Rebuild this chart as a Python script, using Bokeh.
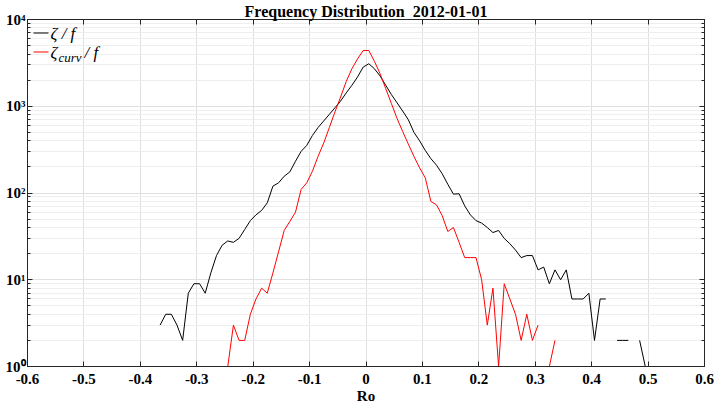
import numpy as np
from bokeh.plotting import figure
from bokeh.models import (Range1d, LinearAxis, LogAxis, FixedTicker, LogTicker,
                          Label, BoxAnnotation)
from bokeh.embed import file_html
from bokeh.resources import INLINE

# ---------------- data ----------------
bin_width = 0.01

# zeta / f : bin centres start at -0.365
zeta_start = -0.365
zeta_counts = [
    3, 4, 4, 3, 2, 7, 9, 9, 7, 12,
    19, 25, 28, 27, 30, 38, 48, 56, 63, 77,
    120, 131, 156, 175, 232, 302, 354, 460, 568, 677,
    806, 961, 1148, 1427, 1746, 2174, 2825, 3090, 2700, 2233,
    1746, 1365, 1096, 881, 700, 500, 400, 310, 249, 209,
    167, 126, 97, 98, 71, 56, 48, 45, 40, 35,
    37, 30, 26, 22, 18, 19, 19, 13, 14, 9,
    13, 10, 13, 6, 6, 6, 7, 2, 6, 6,
    0, 2, 2, 2, 0, 2, 1,
]

# zeta_curv / f : bin centres start at -0.245
curv_start = -0.245
curv_counts = [
    1, 3, 2, 2, 4, 6, 8, 7, 12, 21,
    37, 47, 60, 110, 131, 178, 264, 376, 568, 862,
    1279, 1935, 2704, 3516, 4390, 4390, 3287, 2370, 1597, 1077,
    725, 511, 366, 264, 195, 150, 80, 73, 55, 36,
    40, 27, 18, 18, 18, 10, 3, 8, 1, 9,
    6, 4, 2, 4, 2, 3, 0, 1, 2,
]

xtick_values = [-0.6, -0.5, -0.4, -0.3, -0.2, -0.1, 0.0, 0.1, 0.2, 0.3, 0.4, 0.5, 0.6]
xtick_labels = ["-0.6", "-0.5", "-0.4", "-0.3", "-0.2", "-0.1", "0",
                "0.1", "0.2", "0.3", "0.4", "0.5", "0.6"]
ytick_values = [1, 10, 100, 1000, 10000]
ytick_labels = ["10\u2070", "10\u00b9", "10\u00b2", "10\u00b3", "10\u2074"]

series_names = ["\u03b6 / f", "\u03b6", "curv", "/ f"]
title_text = "Frequency Distribution \u00a02012-01-01"


def centres(start, n):
    return np.round(start + bin_width * np.arange(n), 4)


def positive(vals):
    arr = np.array(vals, dtype=float)
    arr[arr <= 0] = np.nan
    return arr


AX = "#262626"
FONT = "Liberation Serif"

p = figure(width=714, height=406, y_axis_type="log",
           x_range=Range1d(-0.6, 0.6), y_range=Range1d(1, 1e4),
           output_backend="svg", toolbar_location=None,
           min_border_left=27, min_border_right=10,
           min_border_top=17, min_border_bottom=39,
           background_fill_color="white", border_fill_color="white",
           outline_line_color=AX, outline_line_width=1)

p.title.text = title_text
p.title.align = "center"
p.title.text_font = FONT
p.title.text_font_size = "16px"
p.title.text_font_style = "bold"
p.title.text_color = "black"
p.title.standoff = 0
p.title.offset = 0

# bottom axis
xa = p.xaxis[0]
xa.ticker = FixedTicker(ticks=xtick_values)
xa.major_label_overrides = dict(zip(xtick_values, xtick_labels))
xa.axis_label = "Ro"
xa.axis_label_text_font = FONT
xa.axis_label_text_font_style = "bold"
xa.axis_label_text_font_size = "15px"
xa.axis_label_text_color = "black"
xa.axis_label_standoff = 1
xa.major_label_text_font = FONT
xa.major_label_text_font_style = "bold"
xa.major_label_text_font_size = "15px"
xa.major_label_text_color = "black"
xa.major_label_standoff = 7
xa.major_tick_in = 5
xa.major_tick_out = 0
xa.minor_tick_line_color = None
xa.axis_line_color = AX
xa.major_tick_line_color = AX

# left axis
ya = p.yaxis[0]
ya.ticker = LogTicker(num_minor_ticks=10)
ya.major_label_overrides = dict(zip(ytick_values, ytick_labels))
ya.major_label_text_font = FONT
ya.major_label_text_font_style = "bold"
ya.major_label_text_font_size = "15px"
ya.major_label_text_color = "black"
ya.major_label_standoff = 2
ya.major_tick_in = 5
ya.major_tick_out = 0
ya.minor_tick_in = 3
ya.minor_tick_out = 0
ya.axis_line_color = AX
ya.major_tick_line_color = AX
ya.minor_tick_line_color = AX

# top and right axes (ticks only, labels not drawn)
top = LinearAxis(ticker=FixedTicker(ticks=xtick_values),
                 major_label_text_font_size="1px", major_label_text_color=None,
                 major_label_standoff=0,
                 major_tick_in=5, major_tick_out=0, minor_tick_line_color=None,
                 axis_line_color=AX, major_tick_line_color=AX)
p.add_layout(top, "above")
right = LogAxis(ticker=LogTicker(num_minor_ticks=10),
                major_label_text_font_size="1px", major_label_text_color=None,
                major_label_standoff=0,
                major_tick_in=5, major_tick_out=0, minor_tick_in=3, minor_tick_out=0,
                axis_line_color=AX, major_tick_line_color=AX, minor_tick_line_color=AX)
p.add_layout(right, "right")

# grids
p.xgrid.ticker = FixedTicker(ticks=xtick_values)
p.xgrid.grid_line_color = "#e0e0e0"
p.ygrid.grid_line_color = "#e0e0e0"
p.ygrid.minor_grid_line_color = "#eeeeee"

# data lines
p.line(centres(zeta_start, len(zeta_counts)), positive(zeta_counts),
       line_color="black", line_width=1)
p.line(centres(curv_start, len(curv_counts)), positive(curv_counts),
       line_color="#ff0000", line_width=1)

# legend (manual, to allow subscript)
p.add_layout(BoxAnnotation(left=6, right=21, bottom=333, top=334,
                           left_units="screen", right_units="screen",
                           bottom_units="screen", top_units="screen",
                           fill_color="black", fill_alpha=1, line_alpha=0))
p.add_layout(BoxAnnotation(left=6, right=21, bottom=314, top=315,
                           left_units="screen", right_units="screen",
                           bottom_units="screen", top_units="screen",
                           fill_color="#ff0000", fill_alpha=1, line_alpha=0))
lab_kw = dict(x_units="screen", y_units="screen", text_font=FONT,
              text_font_style="italic", text_color="black", text_baseline="middle")
p.add_layout(Label(x=23, y=333.5, text=series_names[0], text_font_size="17px", **lab_kw))
p.add_layout(Label(x=23, y=314.5, text=series_names[1], text_font_size="17px", **lab_kw))
p.add_layout(Label(x=31, y=309, text=series_names[2], text_font_size="13px", **lab_kw))
p.add_layout(Label(x=57, y=314.5, text=series_names[3], text_font_size="17px", **lab_kw))

open("out.html", "w").write(file_html(p, INLINE))
